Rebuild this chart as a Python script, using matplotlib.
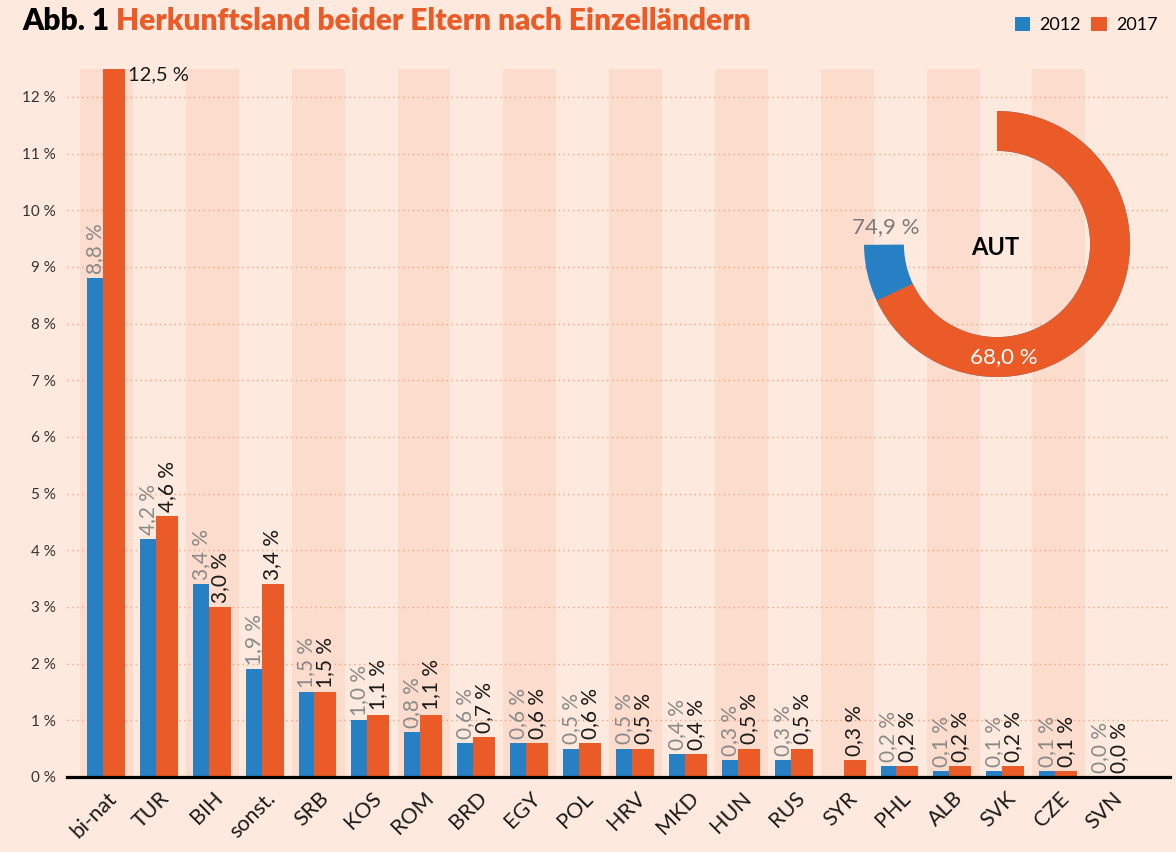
import numpy as np
import matplotlib.pyplot as plt
from matplotlib.transforms import ScaledTranslation

plt.rcParams['font.family'] = ['Lato', 'DejaVu Sans']

# Anteile in Prozent, 2012 und 2017
laender = ["bi-nat", "TUR", "BIH", "sonst.", "SRB", "KOS", "ROM", "BRD", "EGY", "POL",
           "HRV", "MKD", "HUN", "RUS", "SYR", "PHL", "ALB", "SVK", "CZE", "SVN"]
anteil_2012 = [8.8, 4.2, 3.4, 1.9, 1.5, 1.0, 0.8, 0.6, 0.6, 0.5,
               0.5, 0.4, 0.3, 0.3, None, 0.2, 0.1, 0.1, 0.1, 0.0]
anteil_2017 = [12.5, 4.6, 3.0, 3.4, 1.5, 1.1, 1.1, 0.7, 0.6, 0.6,
               0.5, 0.4, 0.5, 0.5, 0.3, 0.2, 0.2, 0.2, 0.1, 0.0]
jahre = ["2012", "2017"]
aut_2012 = 74.9
aut_2017 = 68.0
y_ticks = list(range(0, 13))

BLAU = "#2780c3"
ORANGE = "#eb5b27"
HG = "#fde9de"
STREIFEN = "#fbdccd"
GRID = "#f3a47f"


def fmt(v):
    return f"{v:.1f}".replace(".", ",") + " %"


W, H = 1176, 852
fig = plt.figure(figsize=(W / 100, H / 100), dpi=100, facecolor=HG)
ax = fig.add_axes([67 / W, 1 - 777 / H, (1170 - 67) / W, 722.5 / H])
ax.set_facecolor(HG)

x = np.arange(len(laender))
v12 = np.array([np.nan if v is None else v for v in anteil_2012], dtype=float)
v17 = np.array(anteil_2017, dtype=float)

# Hintergrundstreifen jede zweite Kategorie
for i in x[::2]:
    ax.bar(i, v17.max(), width=1.0, color=STREIFEN, zorder=0.1, linewidth=0)

b12 = ax.bar(x - 0.37, v12, width=0.30, align='edge', color=BLAU, zorder=2, linewidth=0)
b17 = ax.bar(x - 0.07, v17, width=0.415, align='edge', color=ORANGE, zorder=2, linewidth=0)

# Wertebeschriftungen
for i in x:
    if not np.isnan(v12[i]):
        ax.annotate(fmt(v12[i]), (i - 0.37 + 0.15, v12[i]), xytext=(0, 3),
                    textcoords='offset points', rotation=90, ha='center', va='bottom',
                    fontsize=15, color="#8a8a8a", zorder=3)
    if i == 0:
        ax.annotate(fmt(v17[i]), (i - 0.07 + 0.415, v17[i]), xytext=(2, 2),
                    textcoords='offset points', ha='left', va='top',
                    fontsize=14.5, color="#1a1a1a", zorder=3)
    else:
        ax.annotate(fmt(v17[i]), (i - 0.07 + 0.2075, v17[i]), xytext=(0, 3),
                    textcoords='offset points', rotation=90, ha='center', va='bottom',
                    fontsize=15, color="#1a1a1a", zorder=3)

ax.set_xlim(-0.747, 20.10)
ax.set_ylim(0, 12.75)
ax.set_axisbelow(True)
ax.yaxis.grid(True, color=GRID, linestyle=(0, (1, 2.5)), linewidth=1)
ax.xaxis.grid(False)
ax.set_yticks(y_ticks)
ax.set_yticklabels([f"{t} %" for t in y_ticks], fontsize=11, color="#333333")
ax.set_xticks(x)
ax.set_xticklabels(laender, rotation=45, ha='right', rotation_mode='anchor',
                   fontsize=15.5, color="#1a1a1a")
verschieb = ScaledTranslation(2.5 / 72, 0, fig.dpi_scale_trans)
for lab in ax.get_xticklabels():
    lab.set_transform(lab.get_transform() + verschieb)
ax.tick_params(axis='both', length=0)
ax.tick_params(axis='y', pad=8)
ax.tick_params(axis='x', pad=8)
for s in ['left', 'right', 'top']:
    ax.spines[s].set_visible(False)
ax.spines['bottom'].set_color('black')
ax.spines['bottom'].set_linewidth(2.3)

# Ring für Österreich
dax = fig.add_axes([864 / W, 1 - 377 / H, 266 / W, 266 / H])
dax.pie([aut_2012, 100 - aut_2012], colors=[BLAU, 'none'], startangle=90,
        counterclock=False, radius=1, wedgeprops=dict(width=0.3, linewidth=0))
dax.pie([aut_2017, 100 - aut_2017], colors=[ORANGE, 'none'], startangle=90,
        counterclock=False, radius=1, wedgeprops=dict(width=0.3, linewidth=0))
dax.set_xlim(-1, 1)
dax.set_ylim(-1, 1)
dax.set_aspect('equal')
dax.axis('off')
dax.text(-0.84, 0.13, fmt(aut_2012), ha='center', va='center', fontsize=16, color="#7a7a7a")
dax.text(0.05, -0.85, fmt(aut_2017), ha='center', va='center', fontsize=16, color="white")
dax.text(-0.015, -0.03, "AUT", ha='center', va='center', fontsize=17,
         fontweight='bold', color="black")

# Titel
t1 = fig.text(22 / W, 1 - 30 / H, "Abb. 1 ", fontsize=21.5, fontweight='heavy',
              color="black", va='baseline')
fig.canvas.draw()
bb = t1.get_window_extent()
fig.text(bb.x1 / W, 1 - 30 / H, "Herkunftsland beider Eltern nach Einzelländern",
         fontsize=21.5, fontweight='heavy', color=ORANGE, va='baseline')

# Legende
fig.legend([b12, b17], jahre, loc='upper right', bbox_to_anchor=(1170 / W, 1 - 4 / H),
           ncol=2, frameon=False, fontsize=13, handlelength=0.85, handleheight=0.85,
           handletextpad=0.5, columnspacing=0.6, borderpad=0.2)

fig.savefig("out.png", dpi=100, facecolor=HG)
